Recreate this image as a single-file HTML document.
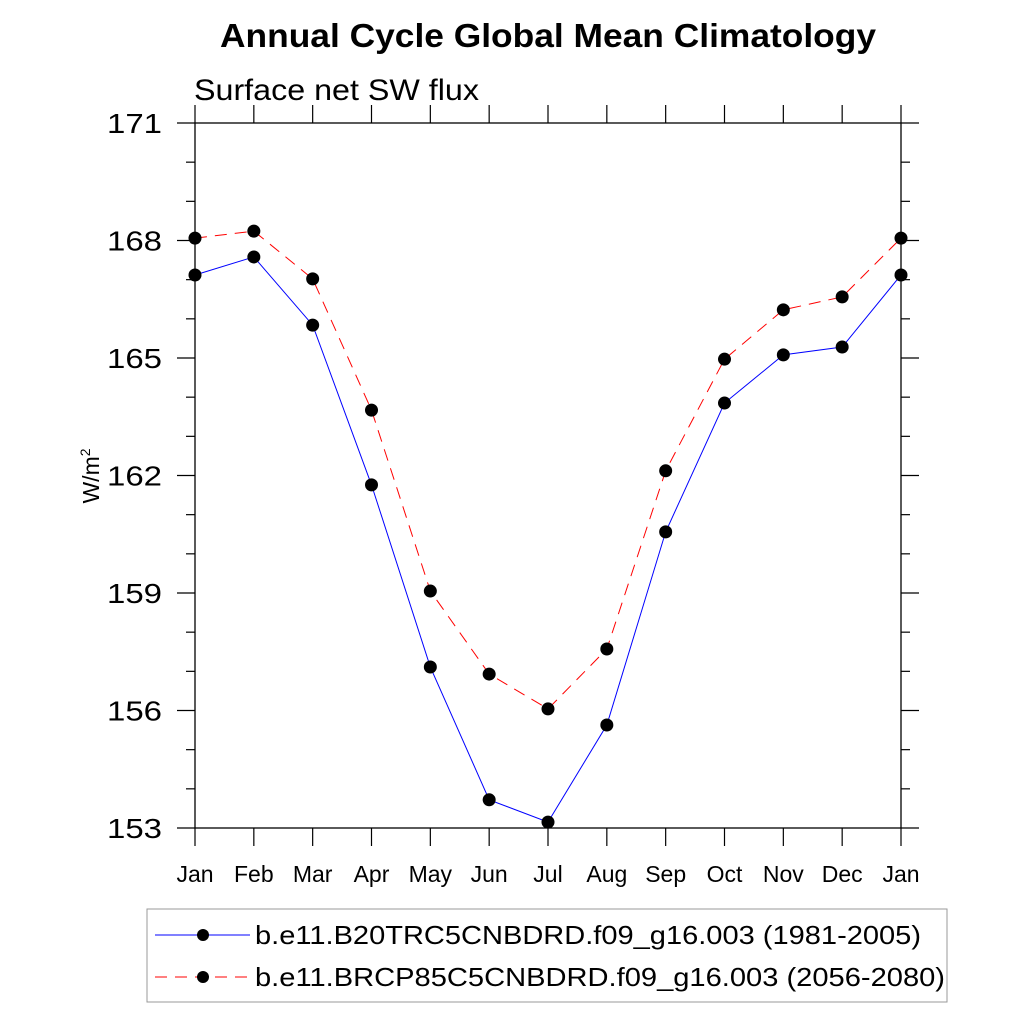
<!DOCTYPE html>
<html><head><meta charset="utf-8"><style>
body{margin:0;background:#fff}
svg text{font-family:"Liberation Sans",sans-serif}
</style></head><body>
<svg width="1024" height="1024" xmlns="http://www.w3.org/2000/svg">
<rect width="1024" height="1024" fill="#fff"/>
<text x="548" y="47" font-size="33" font-weight="bold" text-anchor="middle" textLength="656" lengthAdjust="spacingAndGlyphs">Annual Cycle Global Mean Climatology</text>
<text x="194" y="100" font-size="30" textLength="285" lengthAdjust="spacingAndGlyphs">Surface net SW flux</text>
<text transform="translate(99,476) rotate(-90)" font-size="23" text-anchor="middle">W/m<tspan dy="-9" font-size="14">2</tspan></text>
<g id="axes"></g>
<g id="series"></g>
<rect x="147" y="909" width="800" height="93" fill="none" stroke="#999" stroke-width="1"/>
<g>
<line x1="155" y1="935" x2="250" y2="935" stroke="#00f" stroke-width="1"/>
<circle cx="203" cy="935" r="6" fill="#000"/>
<text x="255" y="944" font-size="26" textLength="666" lengthAdjust="spacingAndGlyphs">b.e11.B20TRC5CNBDRD.f09_g16.003 (1981-2005)</text>
</g>
<g>
<line x1="155" y1="977" x2="250" y2="977" stroke="#f00" stroke-width="1" stroke-dasharray="12,8"/>
<circle cx="203" cy="977" r="6" fill="#000"/>
<text x="255" y="986" font-size="26" textLength="690" lengthAdjust="spacingAndGlyphs">b.e11.BRCP85C5CNBDRD.f09_g16.003 (2056-2080)</text>
</g>
</svg>
<script>
const months=["Jan","Feb","Mar","Apr","May","Jun","Jul","Aug","Sep","Oct","Nov","Dec","Jan"];
const histValues=[167.12,167.58,165.84,161.76,157.11,153.72,153.15,155.63,160.56,163.85,165.08,165.28,167.12];
const rcpValues=[168.06,168.24,167.02,163.67,159.05,156.93,156.04,157.57,162.12,164.97,166.23,166.56,168.06];
const yTicks=[153,156,159,162,165,168,171];
const NS="http://www.w3.org/2000/svg";
const X0=195,X1=901,Y0=828,Y1=123,YMIN=153,YMAX=171;
const xs=i=>X0+(X1-X0)*i/(months.length-1);
const ys=v=>Y0-(v-YMIN)/(YMAX-YMIN)*(Y0-Y1);
function mk(tag,attrs,parent){const e=document.createElementNS(NS,tag);for(const k in attrs)e.setAttribute(k,attrs[k]);parent.appendChild(e);return e;}
const ax=document.getElementById('axes');
const frame=mk('rect',{x:X0,y:Y1,width:X1-X0,height:Y0-Y1,fill:'none',stroke:'#000','stroke-width':1.3},ax);


for(let v=YMIN;v<=YMAX;v+=1){
  const major=yTicks.includes(v);const L=major?18:9;
  mk('line',{x1:X0-L,x2:X0,y1:ys(v),y2:ys(v),stroke:'#000','stroke-width':1.2},ax);
  mk('line',{x1:X1,x2:X1+L,y1:ys(v),y2:ys(v),stroke:'#000','stroke-width':1.2},ax);
}
yTicks.forEach(v=>{
  const t=mk('text',{x:162,y:ys(v)+10,'font-size':28,'text-anchor':'end',textLength:55,lengthAdjust:'spacingAndGlyphs'},ax);t.textContent=v;
  
  
});
months.forEach((m,i)=>{
  mk('line',{x1:xs(i),x2:xs(i),y1:Y0,y2:Y0+18,stroke:'#000','stroke-width':1.2},ax);
  mk('line',{x1:xs(i),x2:xs(i),y1:Y1-18,y2:Y1,stroke:'#000','stroke-width':1.2},ax);
  const t=mk('text',{x:xs(i),y:882,'font-size':23,'text-anchor':'middle'},ax);t.textContent=m;
  
  
});
const sg=document.getElementById('series');
function draw(vals,color,dash,name){
  const g=mk('g',{},sg);
  
  
  const pts=vals.map((v,i)=>xs(i)+','+ys(v)).join(' ');
  const a={points:pts,fill:'none',stroke:color,'stroke-width':1};if(dash)a['stroke-dasharray']=dash;
  mk('polyline',a,g);
  vals.forEach((v,i)=>{const c=mk('circle',{cx:xs(i),cy:ys(v),r:6.5,fill:'#000'},g);
    
    });
}
draw(histValues,'#00f',null,'series-historical');
draw(rcpValues,'#f00','12,8','series-rcp85');
</script>
</body></html>
